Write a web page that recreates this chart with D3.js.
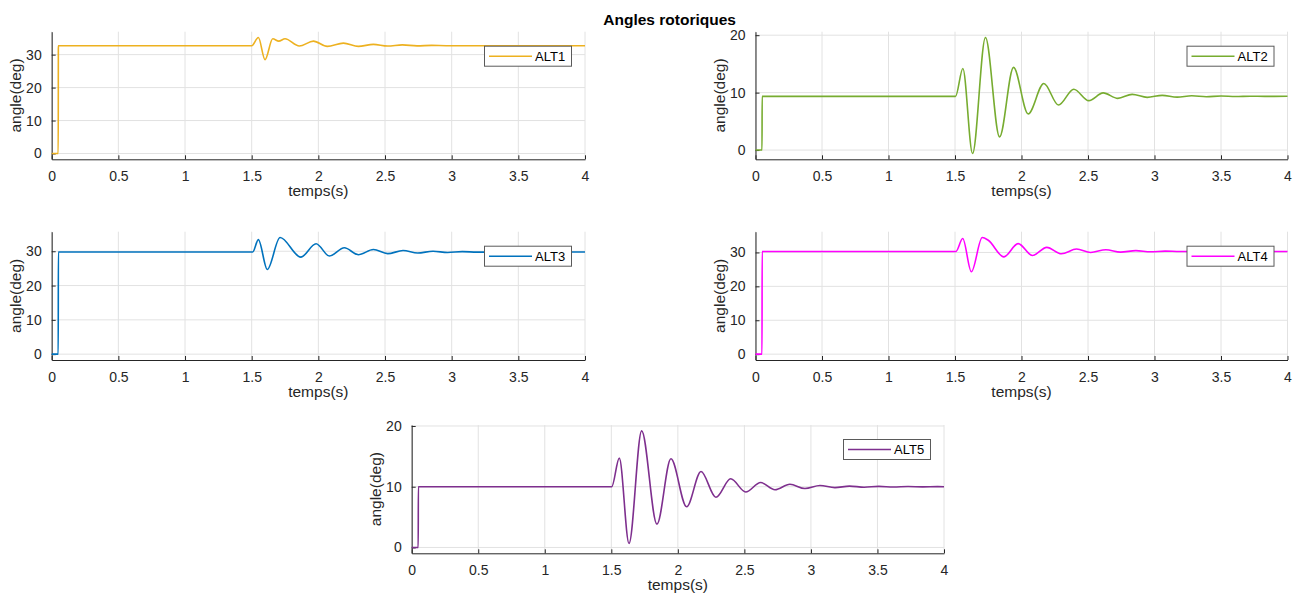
<!DOCTYPE html>
<html>
<head>
<meta charset="utf-8">
<script src="https://cdn.jsdelivr.net/npm/d3@7"></script>
<style>
  html, body { margin: 0; padding: 0; background: #fff; }
  svg { display: block; font-family: "Liberation Sans", Arial, Helvetica, sans-serif; }
</style>
</head>
<body>
<svg id="fig" width="1293" height="598"></svg>
<script>
// Rotor angle responses of five alternators (deg) over time (s)
const seriesNames = ["ALT1", "ALT2", "ALT3", "ALT4", "ALT5"];
const seriesColors = ["#EDB120", "#77AC30", "#0072BD", "#FF00FF", "#7E2F8E"];

const alt1Time  = [0, 0.049, 0.05, 1.50, 1.55, 1.60, 1.658, 1.703, 1.75, 1.857, 1.963, 2.067, 2.188, 2.30, 2.413, 2.52, 2.63, 2.74, 2.85, 2.96, 4.0];
const alt1Angle = [0, 0, 32.7, 32.7, 35.2, 28.5, 34.8, 34.1, 34.8, 32.6, 34.1, 32.5, 33.5, 32.5, 33.1, 32.6, 32.95, 32.65, 32.8, 32.7, 32.7];

const alt2Time  = [0, 0.049, 0.05, 1.504, 1.559, 1.632, 1.729, 1.835, 1.94, 2.05, 2.168, 2.278, 2.393, 2.506, 2.614, 2.724, 2.832, 2.945, 3.058, 3.17, 3.28, 3.39, 3.50, 3.61, 3.72, 3.83, 4.0];
const alt2Angle = [0, 0, 9.35, 9.35, 14.2, -0.6, 19.6, 2.3, 14.4, 6.3, 11.6, 7.85, 10.6, 8.6, 9.95, 9.0, 9.7, 9.18, 9.53, 9.22, 9.45, 9.28, 9.4, 9.32, 9.38, 9.34, 9.36];

const alt3Time  = [0, 0.049, 0.05, 1.508, 1.55, 1.617, 1.713, 1.868, 1.983, 2.083, 2.195, 2.30, 2.413, 2.52, 2.635, 2.745, 2.86, 2.97, 3.08, 3.19, 4.0];
const alt3Angle = [0, 0, 29.8, 29.8, 33.4, 24.7, 34.0, 28.3, 32.2, 28.6, 31.0, 29.0, 30.5, 29.3, 30.2, 29.5, 30.0, 29.65, 29.9, 29.75, 29.8];

const alt4Time  = [0, 0.049, 0.05, 1.507, 1.558, 1.623, 1.705, 1.75, 1.867, 1.975, 2.082, 2.19, 2.30, 2.414, 2.52, 2.635, 2.745, 2.86, 2.97, 3.08, 3.19, 4.0];
const alt4Angle = [0, 0, 30.3, 30.3, 34.1, 24.3, 34.4, 33.6, 28.7, 32.6, 29.1, 31.5, 29.6, 31.0, 30.0, 30.8, 30.1, 30.55, 30.2, 30.4, 30.28, 30.3];

const alt5Time  = [0, 0.049, 0.05, 1.503, 1.56, 1.633, 1.728, 1.843, 1.948, 2.066, 2.174, 2.286, 2.397, 2.51, 2.622, 2.73, 2.842, 2.955, 3.068, 3.18, 3.29, 3.40, 3.51, 3.62, 3.73, 3.84, 3.95, 4.0];
const alt5Angle = [0, 0, 10.0, 10.0, 14.7, 0.66, 19.2, 3.85, 14.6, 6.7, 12.5, 8.26, 11.3, 9.14, 10.7, 9.5, 10.4, 9.7, 10.2, 9.85, 10.1, 9.92, 10.05, 9.96, 10.03, 9.98, 10.01, 10.0];

const seriesTimes  = [alt1Time, alt2Time, alt3Time, alt4Time, alt5Time];
const seriesAngles = [alt1Angle, alt2Angle, alt3Angle, alt4Angle, alt5Angle];

const xTickValues = [0, 0.5, 1, 1.5, 2, 2.5, 3, 3.5, 4];
const xTickLabels = ["0", "0.5", "1", "1.5", "2", "2.5", "3", "3.5", "4"];
const yTicksTall  = [0, 10, 20, 30];
const yTicksShort = [0, 10, 20];
const panelYTicks = [yTicksTall, yTicksShort, yTicksTall, yTicksTall, yTicksShort];

const figureTitle = "Angles rotoriques";
const xLabel = "temps(s)";
const yLabel = "angle(deg)";

// Axes rectangles (left, right, top, bottom) in pixels
const panels = [
  { l: 51.7,  r: 585,    t: 31.7,  b: 159.3 },
  { l: 755.5, r: 1287.5, t: 31.7,  b: 159.3 },
  { l: 51.7,  r: 585,    t: 231.7, b: 360 },
  { l: 755.5, r: 1287.5, t: 231.7, b: 360 },
  { l: 411.7, r: 944,    t: 425,   b: 553.3 }
];

const ink = "#262626";
const gridColor = "#e2e2e2";
const svg = d3.select("#fig");

svg.append("text")
  .attr("x", (panels[0].l + panels[1].r) / 2)
  .attr("y", 25)
  .attr("text-anchor", "middle")
  .attr("font-size", 15.5)
  .attr("font-weight", "bold")
  .attr("fill", "#000")
  .text(figureTitle);

panels.forEach((p, i) => {
  const t = seriesTimes[i], v = seriesAngles[i];
  const data = t.map((d, k) => ({ t: d, v: v[k] }));
  const [lo, hi] = d3.extent(v);
  const pad = (hi - lo) * 0.05;

  const x = d3.scaleLinear().domain([0, 4]).range([p.l, p.r]);
  const y = d3.scaleLinear().domain([lo - pad, hi + pad]).range([p.b, p.t]);

  const g = svg.append("g");

  // grid
  g.append("g").selectAll("line").data(xTickValues).join("line")
    .attr("x1", d => x(d)).attr("x2", d => x(d))
    .attr("y1", p.t).attr("y2", p.b)
    .attr("stroke", gridColor).attr("stroke-width", 1);
  g.append("g").selectAll("line").data(panelYTicks[i]).join("line")
    .attr("x1", p.l).attr("x2", p.r)
    .attr("y1", d => y(d)).attr("y2", d => y(d))
    .attr("stroke", gridColor).attr("stroke-width", 1);

  // x axis (inward ticks)
  const xAxis = d3.axisBottom(x).tickValues(xTickValues)
    .tickFormat((d, k) => xTickLabels[k]).tickSizeInner(-4).tickSizeOuter(0).tickPadding(12);
  const gx = g.append("g").attr("transform", `translate(0,${p.b})`).call(xAxis);
  gx.select(".domain").attr("stroke", ink);
  gx.selectAll(".tick line").attr("stroke", ink);
  gx.selectAll("text").attr("font-size", 14).attr("fill", ink)
    .attr("font-family", "Liberation Sans, Arial, sans-serif");

  // y axis (inward ticks)
  const yAxis = d3.axisLeft(y).tickValues(panelYTicks[i])
    .tickFormat(d3.format("d")).tickSizeInner(-4).tickSizeOuter(0).tickPadding(10);
  const gy = g.append("g").attr("transform", `translate(${p.l},0)`).call(yAxis);
  gy.select(".domain").attr("stroke", ink);
  gy.selectAll(".tick line").attr("stroke", ink);
  gy.selectAll("text").attr("font-size", 14).attr("fill", ink)
    .attr("font-family", "Liberation Sans, Arial, sans-serif");

  // axis labels
  g.append("text")
    .attr("x", (p.l + p.r) / 2).attr("y", p.b + 37)
    .attr("text-anchor", "middle").attr("font-size", 15.5).attr("fill", ink)
    .text(xLabel);
  g.append("text")
    .attr("transform", `translate(${p.l - 36},${(p.t + p.b) / 2}) rotate(-90)`)
    .attr("text-anchor", "middle").attr("dominant-baseline", "central")
    .attr("font-size", 15.5).attr("fill", ink)
    .text(yLabel);

  // response curve
  const line = d3.line().x(d => x(d.t)).y(d => y(d.v)).curve(d3.curveMonotoneX);
  g.append("path").datum(data)
    .attr("d", line)
    .attr("fill", "none")
    .attr("stroke", seriesColors[i])
    .attr("stroke-width", 1.6)
    .attr("stroke-linejoin", "round");

  // legend (north-east)
  const lw = 87, lh = 20;
  const lx = p.r - 14 - lw, ly = p.t + 14;
  const lg = g.append("g").attr("transform", `translate(${lx},${ly})`);
  lg.append("rect").attr("x", 0.5).attr("y", 0.5).attr("width", lw).attr("height", lh)
    .attr("fill", "#fff").attr("stroke", "#5a5a5a").attr("stroke-width", 1);
  lg.append("line").attr("x1", 5).attr("x2", 48).attr("y1", lh / 2 + 0.5).attr("y2", lh / 2 + 0.5)
    .attr("stroke", seriesColors[i]).attr("stroke-width", 1.6);
  lg.append("text").attr("x", 51).attr("y", lh / 2 + 0.5)
    .attr("dominant-baseline", "central").attr("font-size", 13).attr("fill", "#000")
    .text(seriesNames[i]);
});
</script>
</body>
</html>
